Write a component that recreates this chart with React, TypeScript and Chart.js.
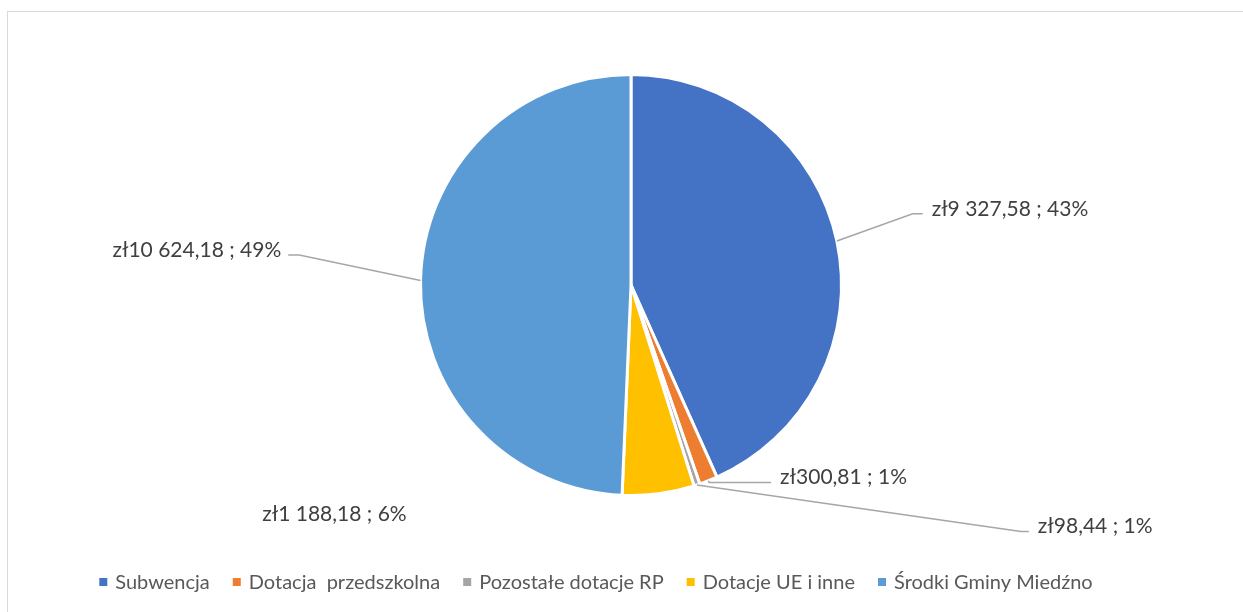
import React, { useEffect, useRef } from "react";
import { Chart, registerables } from "chart.js";

Chart.register(...registerables);

// ---- data ----
const categories = [
  "Subwencja",
  "Dotacja  przedszkolna",
  "Pozostałe dotacje RP",
  "Dotacje UE i inne",
  "Środki Gminy Miedźno",
];
const amounts = [9327.58, 300.81, 98.44, 1188.18, 10624.18];
const amountLabels = ["zł9 327,58", "zł300,81", "zł98,44", "zł1 188,18", "zł10 624,18"];
const percentLabels = ["43%", "1%", "1%", "6%", "49%"];
const colors = ["#4472C4", "#ED7D31", "#A5A5A5", "#FFC000", "#5B9BD5"];

// ---- label layout (relative to pie centre, in radius units) ----
const labelLayout = [
  { ex: 1.338, ey: -0.338, tail: 10, line: true },
  { ex: 0.371, ey: 0.938, tail: 62, line: true },
  { ex: 1.852, ey: 1.171, tail: 8, line: true },
  { ex: -1.752, ey: 1.11, tail: 0, line: false },
  { ex: -1.576, ey: -0.143, tail: -11, line: true },
];

const FONT = "Lato, 'Open Sans', sans-serif";

const labelPlugin = {
  id: "excelLabels",
  afterDatasetsDraw(chart: any) {
    const ctx = chart.ctx;
    const meta = chart.getDatasetMeta(0);
    ctx.save();
    meta.data.forEach((arc: any, i: number) => {
      const { x, y, startAngle, endAngle, outerRadius } = arc.getProps(
        ["x", "y", "startAngle", "endAngle", "outerRadius"],
        true
      );
      const mid = (startAngle + endAngle) / 2;
      const r = outerRadius;
      const L = labelLayout[i];
      const sx = x + Math.cos(mid) * r;
      const sy = y + Math.sin(mid) * r;
      const exx = x + L.ex * r;
      const eyy = y + L.ey * r;
      const endX = exx + L.tail;
      if (L.line) {
        ctx.strokeStyle = "#A6A6A6";
        ctx.lineWidth = 1.5;
        ctx.beginPath();
        ctx.moveTo(sx, sy);
        ctx.lineTo(exx, eyy);
        ctx.lineTo(endX, eyy);
        ctx.stroke();
      }
      const text = amountLabels[i] + " ; " + percentLabels[i];
      ctx.font = `21px ${FONT}`;
      ctx.fillStyle = "#404040";
      ctx.textBaseline = "alphabetic";
      if (L.tail < 0) {
        ctx.textAlign = "right";
        ctx.fillText(text, endX - 7, eyy + 2);
      } else if (L.tail > 0) {
        ctx.textAlign = "left";
        ctx.fillText(text, endX + 9, eyy + 2);
      } else {
        ctx.textAlign = "left";
        ctx.fillText(text, exx, eyy + 2);
      }
    });
    ctx.restore();
  },
};

const legendPlugin = {
  id: "excelLegend",
  afterDraw(chart: any) {
    const ctx = chart.ctx;
    const centerX = 596;
    const cy = 582;
    const box = 8;
    const boxGap = 8;
    const itemGap = 23;
    ctx.save();
    ctx.font = `20px ${FONT}`;
    const widths = categories.map((c) => box + boxGap + ctx.measureText(c).width);
    const total = widths.reduce((a, b) => a + b, 0) + itemGap * (categories.length - 1);
    let x = centerX - total / 2;
    categories.forEach((c, i) => {
      ctx.fillStyle = colors[i];
      ctx.fillRect(x, cy - box / 2, box, box);
      ctx.fillStyle = "#595959";
      ctx.textAlign = "left";
      ctx.textBaseline = "middle";
      ctx.fillText(c, x + box + boxGap, cy + 1);
      x += widths[i] + itemGap;
    });
    ctx.restore();
  },
};

export default function App() {
  const canvasRef = useRef<HTMLCanvasElement | null>(null);

  useEffect(() => {
    if (!canvasRef.current) return;
    const chart = new Chart(canvasRef.current, {
      type: "pie",
      data: {
        labels: categories,
        datasets: [
          {
            data: amounts,
            backgroundColor: colors,
            borderColor: "#FFFFFF",
            borderWidth: 3,
          },
        ],
      },
      options: {
        responsive: false,
        animation: false,
        devicePixelRatio: 1,
        layout: { padding: { top: 73, bottom: 115, left: 419, right: 400 } },
        plugins: {
          legend: { display: false },
          tooltip: { enabled: false },
        },
      },
      plugins: [labelPlugin, legendPlugin],
    });
    if ((document as any).fonts && (document as any).fonts.load) {
      Promise.all([
        (document as any).fonts.load(`21px Lato`),
        (document as any).fonts.load(`20px Lato`),
      ]).then(() => chart.update()).catch(() => {});
    }
    return () => chart.destroy();
  }, []);

  return (
    <div
      style={{
        position: "fixed",
        left: 0,
        top: 0,
        width: 1243,
        height: 612,
        overflow: "hidden",
        background: "#FFFFFF",
      }}
    >
      <div
        style={{
          position: "absolute",
          left: 7,
          top: 11,
          width: 1300,
          height: 700,
          border: "1px solid #D9D9D9",
          boxSizing: "border-box",
        }}
      />
      <canvas
        ref={canvasRef}
        width={1243}
        height={612}
        style={{ position: "absolute", left: 0, top: 0, width: 1243, height: 612 }}
      />
    </div>
  );
}
